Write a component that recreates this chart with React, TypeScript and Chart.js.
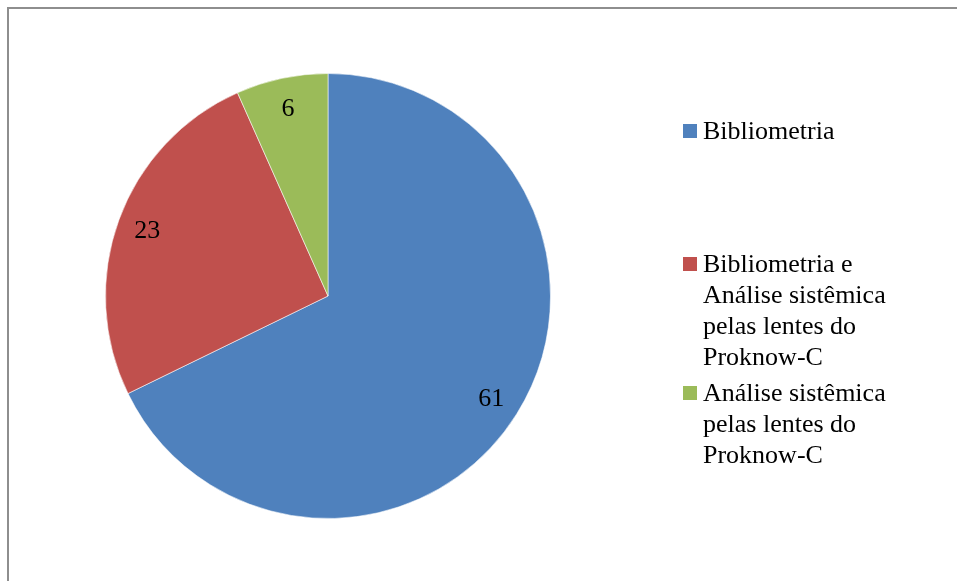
import React, { useEffect, useRef } from "react";
import { Chart, registerables } from "chart.js";

Chart.register(...registerables);

const categories: string[] = [
  "Bibliometria",
  "Bibliometria e Análise sistêmica pelas lentes do Proknow-C",
  "Análise sistêmica pelas lentes do Proknow-C",
];
const values: number[] = [61, 23, 6];
const colors: string[] = ["#4F81BD", "#C0504D", "#9BBB59"];
const legendTops: number[] = [115, 248, 377];

const FONT = '"Liberation Serif", "Times New Roman", serif';

const labelPlugin = {
  id: "sliceLabels",
  afterDatasetsDraw(chart: any) {
    const ctx = chart.ctx;
    const meta = chart.getDatasetMeta(0);
    ctx.save();
    ctx.font = `26px ${FONT}`;
    ctx.fillStyle = "#000";
    ctx.textAlign = "center";
    ctx.textBaseline = "middle";
    meta.data.forEach((arc: any, i: number) => {
      const p = arc.getProps(["x", "y", "startAngle", "endAngle", "outerRadius"], true);
      const mid = (p.startAngle + p.endAngle) / 2;
      const r = p.outerRadius * 0.865;
      ctx.fillText(String(values[i]), p.x + Math.cos(mid) * r, p.y + Math.sin(mid) * r + 1);
    });
    ctx.restore();
  },
};

export default function App() {
  const ref = useRef<HTMLCanvasElement | null>(null);
  useEffect(() => {
    if (!ref.current) return;
    const chart = new Chart(ref.current, {
      type: "pie",
      data: {
        labels: categories,
        datasets: [
          {
            data: values,
            backgroundColor: colors,
            borderColor: "rgba(255,255,255,0.55)",
            borderWidth: 1,
          },
        ],
      },
      options: {
        animation: false,
        responsive: false,
        maintainAspectRatio: false,
        layout: { padding: { left: 105, top: 73, right: 406, bottom: 62 } },
        plugins: {
          legend: { display: false },
          tooltip: { enabled: false },
        },
      },
      plugins: [labelPlugin],
    });
    return () => chart.destroy();
  }, []);

  return (
    <div style={{ position: "fixed", left: 0, top: 0, width: 957, height: 581, overflow: "hidden", background: "#fff" }}>
      <div
        style={{
          position: "absolute",
          left: 7,
          top: 7,
          width: 960,
          height: 590,
          borderTop: "2px solid #8e8e8e",
          borderLeft: "2px solid #8e8e8e",
          boxSizing: "border-box",
        }}
      />
      <canvas ref={ref} width={957} height={581} style={{ position: "absolute", left: 0, top: 0, width: 957, height: 581 }} />
      {categories.map((c, i) => (
        <div
          key={c}
          style={{
            position: "absolute",
            left: 683,
            top: legendTops[i],
            width: 240,
            display: "flex",
            alignItems: "flex-start",
            fontFamily: FONT,
            fontSize: 26,
            lineHeight: "31px",
            color: "#000",
          }}
        >
          <span style={{ display: "inline-block", width: 14, height: 14, background: colors[i], marginTop: 9, flex: "0 0 14px" }} />
          <span style={{ marginLeft: 6, width: 200 }}>{c}</span>
        </div>
      ))}
    </div>
  );
}
